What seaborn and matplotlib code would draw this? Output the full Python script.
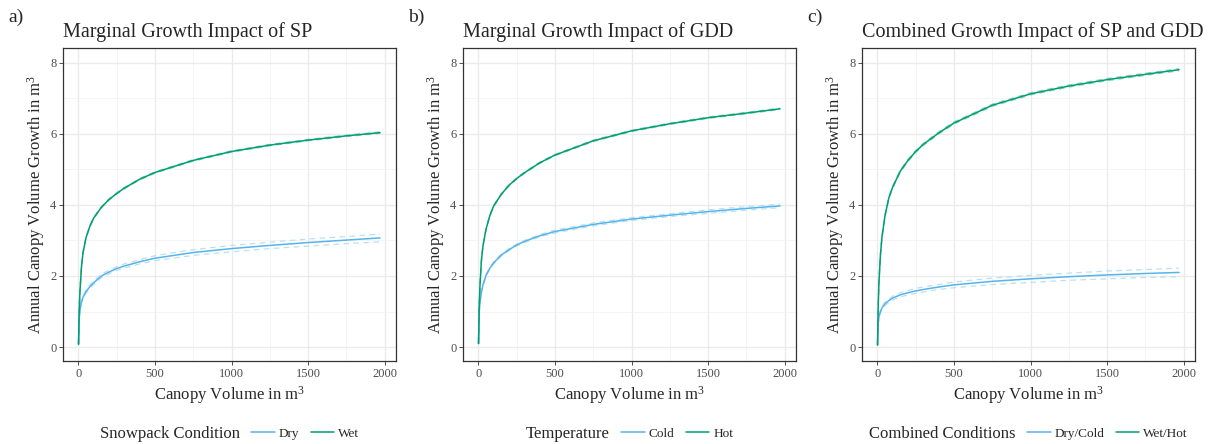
import matplotlib
matplotlib.use("Agg")
import matplotlib.pyplot as plt
import pandas as pd
import seaborn as sns

# Canopy volume (m^3) at which the fitted growth curves are evaluated
canopy_volume = [1, 5, 10, 20, 30, 50, 75, 100, 150, 200, 250, 300, 400, 500,
                 750, 1000, 1250, 1500, 1750, 1970]

# a) snowpack
sp_dry = [0.08, 0.78, 1.02, 1.27, 1.40, 1.56, 1.70, 1.81, 2.00, 2.11, 2.21, 2.28,
          2.40, 2.50, 2.66, 2.77, 2.86, 2.94, 3.01, 3.07]
sp_dry_ci = [0.00, 0.02, 0.03, 0.04, 0.04, 0.04, 0.05, 0.05, 0.05, 0.05, 0.05, 0.06,
             0.06, 0.07, 0.08, 0.09, 0.09, 0.10, 0.10, 0.11]
sp_wet = [0.08, 1.00, 1.55, 2.25, 2.65, 3.08, 3.40, 3.63, 3.93, 4.15, 4.32, 4.47,
          4.72, 4.91, 5.25, 5.50, 5.68, 5.82, 5.94, 6.03]
sp_wet_ci = [0.00, 0.01, 0.01, 0.02, 0.02, 0.02, 0.02, 0.02, 0.02, 0.02, 0.02, 0.02,
             0.02, 0.02, 0.02, 0.02, 0.02, 0.02, 0.02, 0.02]

# b) growing degree days
gdd_cold = [0.10, 0.95, 1.25, 1.55, 1.75, 2.02, 2.22, 2.37, 2.59, 2.74, 2.87, 2.97,
            3.13, 3.25, 3.45, 3.60, 3.71, 3.81, 3.90, 3.97]
gdd_cold_ci = [0.00, 0.01, 0.02, 0.02, 0.02, 0.03, 0.03, 0.03, 0.03, 0.03, 0.03, 0.03,
               0.03, 0.04, 0.04, 0.04, 0.04, 0.05, 0.05, 0.05]
gdd_hot = [0.10, 1.10, 1.70, 2.45, 2.85, 3.32, 3.70, 3.97, 4.30, 4.55, 4.74, 4.90,
           5.18, 5.40, 5.80, 6.08, 6.28, 6.45, 6.58, 6.70]
gdd_hot_ci = [0.00, 0.01, 0.01, 0.02, 0.02, 0.02, 0.02, 0.02, 0.02, 0.02, 0.02, 0.02,
              0.02, 0.02, 0.02, 0.02, 0.02, 0.02, 0.02, 0.02]

# c) combined
comb_drycold = [0.06, 0.65, 0.85, 1.00, 1.10, 1.22, 1.31, 1.38, 1.47, 1.53, 1.58, 1.62,
                1.69, 1.75, 1.85, 1.92, 1.98, 2.03, 2.07, 2.10]
comb_drycold_ci = [0.00, 0.02, 0.03, 0.04, 0.04, 0.05, 0.05, 0.05, 0.06, 0.06, 0.07, 0.07,
                   0.07, 0.08, 0.09, 0.10, 0.10, 0.11, 0.11, 0.12]
comb_wethot = [0.06, 1.10, 1.80, 2.60, 3.10, 3.70, 4.20, 4.50, 4.95, 5.25, 5.50, 5.70,
               6.02, 6.30, 6.80, 7.12, 7.34, 7.52, 7.67, 7.80]
comb_wethot_ci = [0.00, 0.01, 0.02, 0.02, 0.03, 0.03, 0.03, 0.03, 0.03, 0.03, 0.03, 0.03,
                  0.03, 0.03, 0.03, 0.03, 0.03, 0.03, 0.03, 0.03]

panel_tags = ["a)", "b)", "c)"]
panel_titles = ["Marginal Growth Impact of SP",
                "Marginal Growth Impact of GDD",
                "Combined Growth Impact of SP and GDD"]
legend_titles = ["Snowpack Condition", "Temperature", "Combined Conditions"]
level_names = [["Dry", "Wet"], ["Cold", "Hot"], ["Dry/Cold", "Wet/Hot"]]
panel_series = [[(sp_dry, sp_dry_ci), (sp_wet, sp_wet_ci)],
                [(gdd_cold, gdd_cold_ci), (gdd_hot, gdd_hot_ci)],
                [(comb_drycold, comb_drycold_ci), (comb_wethot, comb_wethot_ci)]]

line_colors = ["#56B4E9", "#009E73"]
band_colors = ["#B9E0F6", "#8FD2BC"]

x_ticks = [0, 500, 1000, 1500, 2000]
y_ticks = [0, 2, 4, 6, 8]

sns.set_theme(style="white")
plt.rcParams.update({
    "font.family": ["Liberation Serif", "DejaVu Serif"],
    "mathtext.default": "regular",
    "axes.edgecolor": "#333333",
    "axes.linewidth": 0.8,
})

W, H = 1211, 444
fig = plt.figure(figsize=(W / 100, H / 100), dpi=100)
fig.patch.set_facecolor("white")

ax_lefts = [63.3, 463.3, 862.3]
ax_w, ax_top, ax_bot = 332.7, 48.0, 361.0

for i in range(3):
    ax = fig.add_axes([ax_lefts[i] / W, (H - ax_bot) / H, ax_w / W, (ax_bot - ax_top) / H])

    rows = []
    for lvl, (mean, ci) in zip(level_names[i], panel_series[i]):
        for xv, m, c in zip(canopy_volume, mean, ci):
            rows.append({"volume": xv, "growth": m, "lower": m - c,
                         "upper": m + c, "cond": lvl})
    df = pd.DataFrame(rows)
    pal = dict(zip(level_names[i], line_colors))
    band_pal = dict(zip(level_names[i], band_colors))

    for bound in ["lower", "upper"]:
        sns.lineplot(data=df, x="volume", y=bound, hue="cond", palette=band_pal,
                     ax=ax, legend=False, linewidth=0.9, dashes=False,
                     estimator=None, sort=True, zorder=2)
    for ln in ax.get_lines():
        ln.set_linestyle((0, (4.5, 3.5)))
    sns.lineplot(data=df, x="volume", y="growth", hue="cond", palette=pal,
                 ax=ax, linewidth=1.1, estimator=None, sort=True, zorder=3)

    ax.set_xlim(-98.5, 2074)
    ax.set_ylim(-0.39, 8.41)
    ax.set_xticks(x_ticks)
    ax.set_yticks(y_ticks)
    ax.set_xticks([250, 750, 1250, 1750], minor=True)
    ax.set_yticks([1, 3, 5, 7], minor=True)
    ax.grid(True, which="major", color="#EBEBEB", linewidth=1.0, zorder=0)
    ax.grid(True, which="minor", color="#F2F2F2", linewidth=0.6, zorder=0)
    ax.set_axisbelow(True)
    ax.tick_params(axis="both", which="major", length=3, width=0.6, color="#333333",
                   labelsize=9, labelcolor="#4D4D4D", pad=2, bottom=True, left=True)
    ax.tick_params(axis="both", which="minor", length=0)
    for s in ax.spines.values():
        s.set_color("#333333")
        s.set_linewidth(0.9)

    ax.set_xlabel("Canopy Volume in m$^{3}$", fontsize=12)
    ax.set_ylabel("Annual Canopy Volume Growth in m$^{3}$", fontsize=12)
    ax.xaxis.set_label_coords(0.5, -0.075)
    ax.yaxis.set_label_coords(-0.05, 0.5)
    ax.set_title(panel_titles[i], loc="left", fontsize=14.5, pad=8)
    fig.text((ax_lefts[i] - 55) / W, 1 - 22 / H, panel_tags[i], fontsize=14,
             va="baseline", ha="left")

    handles, labels = ax.get_legend_handles_labels()
    leg = ax.legend(handles, labels, title=legend_titles[i], loc="center",
                    bbox_to_anchor=(0.5, -0.233), ncol=2, frameon=False,
                    fontsize=9.5, title_fontsize=12, handlelength=1.8,
                    handletextpad=0.3, columnspacing=0.7)
    for h in leg.legend_handles:
        h.set_linewidth(1.1)
    # put the legend title to the left of the keys
    box = leg._legend_box
    title_box, keys_box = box.get_children()
    box._children = [keys_box]
    keys_box._children = [title_box] + keys_box.get_children()
    keys_box.sep = 8
    keys_box.align = "center"

fig.savefig("out.png", dpi=100, facecolor="white")
